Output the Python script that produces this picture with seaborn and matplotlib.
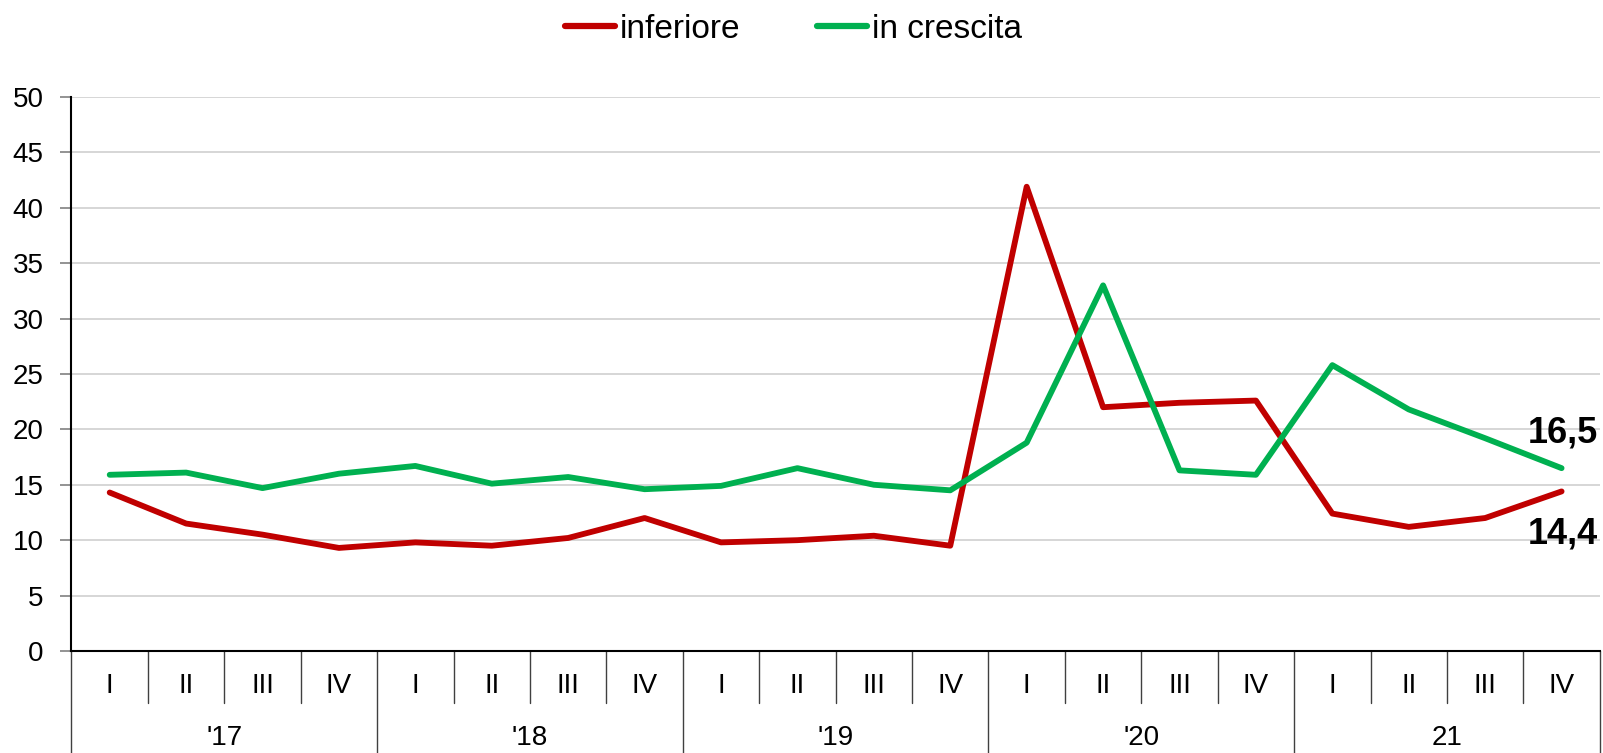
import numpy as np
import pandas as pd
import matplotlib
matplotlib.use("Agg")
import matplotlib.pyplot as plt
import matplotlib.transforms as mtransforms
from matplotlib.lines import Line2D
import seaborn as sns

# Quarterly data, 2017-2021
quarters = ["I", "II", "III", "IV"] * 5
years = ["'17", "'18", "'19", "'20", "21"]
inferiore = [14.3, 11.5, 10.5, 9.3, 9.8, 9.5, 10.2, 12.0, 9.8, 10.0,
             10.4, 9.5, 41.9, 22.0, 22.4, 22.6, 12.4, 11.2, 12.0, 14.4]
in_crescita = [15.9, 16.1, 14.7, 16.0, 16.7, 15.1, 15.7, 14.6, 14.9, 16.5,
               15.0, 14.5, 18.8, 33.0, 16.3, 15.9, 25.8, 21.8, 19.2, 16.5]
series_names = ["inferiore", "in crescita"]
colors = ["#c00000", "#00b050"]

sns.set_style("white")
plt.rcParams["font.family"] = ["Liberation Sans", "DejaVu Sans"]
plt.rcParams["text.color"] = "black"
plt.rcParams["xtick.labelcolor"] = "black"
plt.rcParams["ytick.labelcolor"] = "black"

n = len(quarters)
pos = np.arange(n)
df = pd.DataFrame({
    "pos": np.concatenate([pos, pos]),
    "value": inferiore + in_crescita,
    "serie": [series_names[0]] * n + [series_names[1]] * n,
})

fig = plt.figure(figsize=(16.03, 7.53), dpi=100)
ax = fig.add_axes([0.0446, 0.1355, 0.9534, 0.7357])

sns.lineplot(data=df, x="pos", y="value", hue="serie", palette=colors,
             linewidth=4.2, ax=ax, legend=False, solid_capstyle="round")

ax.set_xlim(-0.5, n - 0.5)
ax.set_ylim(0, 50)
ax.set_yticks(np.arange(0, 51, 5))
ax.yaxis.grid(True, color="#d0d0d0", linewidth=1.2)
ax.set_axisbelow(True)
ax.tick_params(axis="y", labelsize=20, direction="out", length=8,
               width=1.2, color="#808080", pad=12, left=True)
ax.set_xlabel("")
ax.set_ylabel("")
for s in ["top", "right"]:
    ax.spines[s].set_visible(False)
for s in ["left", "bottom"]:
    ax.spines[s].set_color("black")
    ax.spines[s].set_linewidth(1.5)

# quarter labels
ax.set_xticks(pos)
ax.set_xticklabels(quarters, fontsize=20)
ax.tick_params(axis="x", length=0, pad=16)

# category separators and year labels
trans = mtransforms.blended_transform_factory(ax.transData, ax.transAxes)
for k in range(n + 1):
    x = k - 0.5
    bottom = -0.19 if k % 4 == 0 else -0.094
    ax.plot([x, x], [0, bottom], color="#404040", linewidth=1.0,
            transform=trans, clip_on=False)
for j, yr in enumerate(years):
    ax.text(4 * j + 1.5, -0.157, yr, transform=trans, ha="center",
            va="center", fontsize=20)

# end labels
ax.annotate("16,5", xy=(pos[-1], in_crescita[-1]), xytext=(26, 13),
            textcoords="offset points", ha="right", va="bottom",
            fontsize=26, fontweight="bold")
ax.annotate("14,4", xy=(pos[-1], inferiore[-1]), xytext=(26, -18),
            textcoords="offset points", ha="right", va="top",
            fontsize=26, fontweight="bold")

handles = [Line2D([0], [0], color=c, linewidth=4.5, solid_capstyle="round")
           for c in colors]
fig.legend(handles, series_names, loc="center", bbox_to_anchor=(0.495, 0.961),
           ncol=2, frameon=False, fontsize=24, handlelength=1.5,
           handletextpad=0.15, columnspacing=2.3)

fig.savefig("out.png", dpi=100)
